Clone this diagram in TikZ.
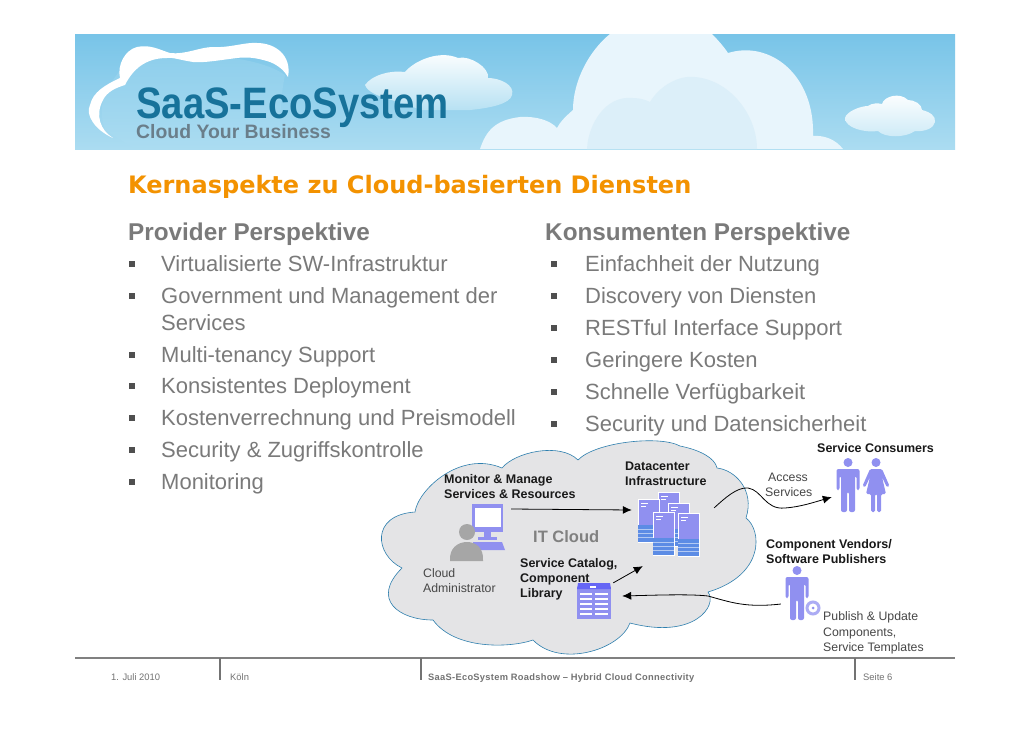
\documentclass[tikz,border=0pt]{standalone}
\usepackage{fontspec}
\setmainfont{Liberation Sans}
\newfontfamily\titlefont{DejaVu Sans}
\newfontfamily\footspaced[LetterSpace=3.2]{Liberation Sans}
\usetikzlibrary{arrows.meta,shapes.geometric}
\definecolor{bodygrey}{HTML}{7A7A7A}
\definecolor{iconblue}{HTML}{9090F0}
\definecolor{icondeep}{HTML}{3F78E0}
\definecolor{cloudfill}{HTML}{E4E4E6}
\definecolor{cloudline}{HTML}{2E7FAE}
\definecolor{skytop}{HTML}{78C4E8}
\definecolor{skybot}{HTML}{ABDCF1}
\definecolor{logoblue}{HTML}{17729A}
\definecolor{logogrey}{HTML}{6A7E8A}
\definecolor{bigcloud}{HTML}{E8F5FC}
\definecolor{innercloud}{HTML}{DCEFF9}
\definecolor{titleorange}{HTML}{F39200}
\tikzset{
  x=1pt,y=-1pt,
  head/.style={anchor=base west,inner sep=0pt,font=\fontsize{24.3}{26}\selectfont\bfseries,text=bodygrey},
  item/.style={anchor=base west,inner sep=0pt,font=\fontsize{22}{26}\selectfont,text=bodygrey},
  bullet/.style={draw=none,fill=bodygrey!65!black,minimum size=6.5pt,inner sep=0pt},
  dbold/.style={anchor=base west,inner sep=0pt,font=\fontsize{12.5}{14}\selectfont\bfseries,text=black!90},
  dreg/.style={anchor=base west,inner sep=0pt,font=\fontsize{12.3}{14}\selectfont,text=black!72},
  foot/.style={anchor=base west,inner sep=0pt,font=\fontsize{9.4}{11}\selectfont,text=black!55},
  flow/.style={black,line width=0.8pt,-{Latex[length=9pt,width=8pt]}},
  marker/.style={inner sep=0pt,minimum size=0pt},
  pics/manicon/.style={code={
    \fill[iconblue] (0,4.5) circle (4.5);
    \fill[iconblue,rounded corners=2pt] (-11.5,11) -- (11.5,11) -- (11.5,32) -- (8.5,32) -- (8.5,18) -- (7,18) -- (7,54) -- (1,54) -- (1,34) -- (-1,34) -- (-1,54) -- (-7,54) -- (-7,18) -- (-8.5,18) -- (-8.5,32) -- (-11.5,32) -- cycle;
  }},
  pics/womanicon/.style={code={
    \fill[iconblue] (0,4.5) circle (4.5);
    \fill[iconblue,rounded corners=1.5pt] (-6,11) -- (6,11) -- (13.5,28) -- (11,29.5) -- (6,19) -- (10,36) -- (5,36) -- (5,54) -- (1,54) -- (1,36) -- (-1,36) -- (-1,54) -- (-5,54) -- (-5,36) -- (-10,36) -- (-6,19) -- (-11,29.5) -- (-13.5,28) -- cycle;
  }},
  pics/servericon/.style={code={
    \fill[iconblue,draw=white,line width=0.6pt] (0,0) rectangle (21,43);
    \fill[icondeep!85!white] (0,26) rectangle (21,43);
    \foreach \yy in {30,34,38}{\draw[white!60!icondeep,line width=0.4pt] (0,\yy) -- (21,\yy);}
    \fill[white] (3,3.5) rectangle (10,5);
    \fill[white] (3,6.5) rectangle (8,7.5);
  }}
}
\begin{document}
\begin{tikzpicture}
\useasboundingbox (0,0) rectangle (1030,728);
\fill[white] (0,0) rectangle (1030,728);
% banner
\shade[top color=skytop,bottom color=skybot] (75,34) rectangle (955,149);
% big cloud
\fill[bigcloud] (480,149) .. controls (486,131) and (495,120) .. (520,117) .. controls (535,116) and (550,120) .. (557,128) .. controls (560,122) and (566,116) .. (573,110) .. controls (573,80) and (590,50) .. (610,34) -- (712,34) .. controls (718,40) and (724,47) .. (728,53) .. controls (770,40) and (815,75) .. (813,136) .. controls (825,135) and (836,140) .. (843,149) -- cycle;
\fill[innercloud] (587,149) .. controls (588,125) and (605,95) .. (633,98) .. controls (640,98) and (646,100) .. (650,102) .. controls (660,85) and (680,75) .. (695,77) .. controls (730,80) and (757,115) .. (757,149) -- cycle;
% second logo cloud
\shade[top color=white,middle color=white,bottom color=skybot!85!white] (365,85) .. controls (372,75) and (390,70) .. (405,72) .. controls (415,60) and (440,50) .. (458,58) .. controls (470,55) and (490,68) .. (488,78) .. controls (500,78) and (515,85) .. (512,95) .. controls (510,104) and (490,108) .. (470,110) -- (420,110) .. controls (400,100) and (370,98) .. (365,85) -- cycle;
% logo crescent
\shade[top color=skytop!60!skybot,bottom color=skybot] (120,70) .. controls (150,50) and (250,50) .. (285,75) .. controls (280,100) and (280,120) .. (280,149) -- (135,149) -- (105,130) .. controls (95,100) and (110,85) .. (120,70) -- cycle;
\fill[white] (113,138) .. controls (95,130) and (85,115) .. (90,105) .. controls (93,92) and (105,85) .. (120,78) .. controls (117,65) and (125,50) .. (137,47) .. controls (150,44) and (160,50) .. (170,53) .. controls (185,55) and (200,47) .. (213,47) .. controls (230,48) and (245,42) .. (257,43) .. controls (275,43) and (292,55) .. (288,77) .. controls (285,72) and (280,66) .. (270,62) .. controls (255,57) and (245,57) .. (237,58) .. controls (220,60) and (205,63) .. (193,62) .. controls (180,60) and (172,57) .. (167,58) .. controls (150,58) and (135,65) .. (125,85) .. controls (115,88) and (107,92) .. (103,100) .. controls (95,115) and (100,130) .. (113,138) -- cycle;
% small right cloud
\shade[top color=white,middle color=white,bottom color=skybot!60!white] (845,118) .. controls (846,112) and (860,106) .. (868,106) .. controls (872,103) and (878,103) .. (882,104) .. controls (884,96) and (900,92) .. (908,100) .. controls (914,100) and (922,104) .. (922,110) .. controls (930,112) and (936,116) .. (935,122) .. controls (934,128) and (925,132) .. (915,131) .. controls (905,138) and (885,138) .. (878,131) .. controls (865,133) and (845,128) .. (845,118) -- cycle;
% logo text
\node[anchor=base west,inner sep=0pt,text=logoblue,font=\fontsize{44}{48}\selectfont\bfseries] (logo) at (136,118) {\scalebox{0.87}[1]{SaaS-EcoSystem}};
\node[anchor=base west,inner sep=0pt,text=logogrey,font=\fontsize{19.4}{22}\selectfont\bfseries] (tag) at (136,138) {Cloud Your Business};
% title
\node[anchor=base west,inner sep=0pt,text=titleorange,font=\titlefont\fontsize{24}{26}\selectfont\bfseries] (title) at (128,193) {Kernaspekte zu Cloud-basierten Diensten};
% left column
\node[head] (lhead) at (128,240) {Provider Perspektive};
\node[item] (l1) at (161,271) {Virtualisierte SW-Infrastruktur};
\node[item] (l2) at (161,303) {Government und Management der};
\node[item] (l2b) at (161,330) {Services};
\node[item] (l3) at (161,362) {Multi-tenancy Support};
\node[item] (l4) at (161,393) {Konsistentes Deployment};
\node[item] (l5) at (161,425) {Kostenverrechnung und Preismodell};
\node[item] (l6) at (161,457) {Security \& Zugriffskontrolle};
\node[item] (l7) at (161,489) {Monitoring};
\foreach \n/\yy in {a/264,b/296,c/355,d/386,e/418,f/450,g/482}{\node[bullet] (lb\n) at (132,\yy) {};}
% right column
\node[head] (rhead) at (545,240) {Konsumenten Perspektive};
\node[item] (r1) at (585,271) {Einfachheit der Nutzung};
\node[item] (r2) at (585,303) {Discovery von Diensten};
\node[item] (r3) at (585,335) {RESTful Interface Support};
\node[item] (r4) at (585,367) {Geringere Kosten};
\node[item] (r5) at (585,399) {Schnelle Verfügbarkeit};
\node[item] (r6) at (585,431) {Security und Datensicherheit};
\foreach \n/\yy in {a/264,b/296,c/328,d/360,e/392,f/424}{\node[bullet] (rb\n) at (554,\yy) {};}
% cloud
\draw[cloudline,fill=cloudfill,line width=0.6pt] (415,512)
 .. controls (418,490) and (460,450) .. (502,468)
 .. controls (515,452) and (560,442) .. (578,460)
 .. controls (595,442) and (660,435) .. (680,446)
 .. controls (700,450) and (715,458) .. (717,468)
 .. controls (735,470) and (755,490) .. (746,518)
 .. controls (762,530) and (765,575) .. (708,592)
 .. controls (718,605) and (695,640) .. (630,623)
 .. controls (620,650) and (560,668) .. (533,640)
 .. controls (510,648) and (455,650) .. (433,620)
 .. controls (400,620) and (370,600) .. (402,568)
 .. controls (375,555) and (370,515) .. (415,512) -- cycle;
% admin
\fill[iconblue] (472,504) rectangle (503,532);
\fill[white] (475,508) rectangle (501,527);
\fill[iconblue] (484,532) rectangle (491,537);
\fill[iconblue] (478,537) rectangle (497,540);
\fill[iconblue] (473,542) -- (502,542) -- (505,550) -- (473,550) -- cycle;
\fill[black!35] (467,532) circle (8);
\fill[black!35] (450,561) .. controls (449,548) and (458,542) .. (467,542) .. controls (476,542) and (484,548) .. (483,561) -- cycle;
\node[marker] (monitor) at (511,509) {};
% servers
\pic at (658,492) {servericon};
\pic at (638,499) {servericon};
\pic at (668,503) {servericon};
\pic at (653,512) {servericon};
\pic at (678,513) {servericon};
\node[marker] (srvin) at (632,510) {};
\node[marker] (srvmid) at (643,566) {};
\node[marker] (srvout) at (714,508) {};
% catalog
\fill[iconblue] (577,587) rectangle (611,619);
\fill[iconblue!70!blue] (578,583) -- (610,583) -- (611,589) -- (577,589) -- cycle;
\fill[white] (590,586) rectangle (596,588);
\foreach \yy in {593,598,603,608,613}{\fill[white] (580,\yy) rectangle (592,\yy+2.4); \fill[white] (595,\yy) rectangle (608,\yy+2.4);}
\node[marker] (catout) at (613,583) {};
\node[marker] (catin) at (622,596) {};
% people
\pic at (848,458) {manicon};
\pic at (876,458) {womanicon};
\pic at (797,566) {manicon};
\draw[iconblue!75!white,line width=3pt,fill=white] (813,608) circle (6);
\fill[iconblue] (813,608) circle (1.5);
\node[marker] (consumers) at (832,497) {};
\node[marker] (vendor) at (781,604) {};
% connectors
\draw[flow] (monitor) -- (srvin);
\draw[flow] (catout) -- (srvmid);
\draw[flow] (srvout) .. controls (725,498) and (737,487) .. (748,488) .. controls (762,490) and (765,510) .. (785,508) .. controls (800,507) and (815,502) .. (consumers);
\draw[flow] (vendor) .. controls (745,608) and (730,602) .. (708,596) .. controls (690,594) and (660,595) .. (catin);
% diagram labels
\node[dbold] (t1) at (444,483) {Monitor \& Manage};
\node[dbold] (t2) at (444,498) {Services \& Resources};
\node[dbold] (t3) at (625,470) {Datacenter};
\node[dbold] (t4) at (625,485) {Infrastructure};
\node[anchor=base west,inner sep=0pt,font=\fontsize{16.5}{18}\selectfont\bfseries,text=black!50] (it) at (533,542) {IT Cloud};
\node[dbold] (t5) at (520,567) {Service Catalog,};
\node[dbold] (t6) at (520,582) {Component};
\node[dbold] (t7) at (520,597) {Library};
\node[dreg] (t8) at (423,577) {Cloud};
\node[dreg] (t9) at (423,592) {Administrator};
\node[dbold] (t10) at (817,452) {Service Consumers};
\node[dreg] (t11) at (768,481) {Access};
\node[dreg] (t12) at (765,496) {Services};
\node[dbold] (t13) at (766,548) {Component Vendors/};
\node[dbold] (t14) at (766,563) {Software Publishers};
\node[dreg] (t15) at (823,620) {Publish \& Update};
\node[dreg] (t16) at (823,636) {Components,};
\node[dreg] (t17) at (823,651) {Service Templates};
% footer
\draw[black!50,line width=2pt] (75,658) -- (955,658);
\foreach \n/\xx in {a/220,b/421,c/855}{\draw[black!55,line width=1.3pt] (\xx,658) -- (\xx,680);}
\node[foot] (f1) at (111,680) {1. Juli 2010};
\node[foot] (f2) at (230,680) {Köln};
\node[foot,font=\footspaced\fontsize{9.3}{11}\selectfont\bfseries] (f3) at (428,680) {SaaS-EcoSystem Roadshow – Hybrid Cloud Connectivity};
\node[foot] (f4) at (863,680) {Seite 6};
\end{tikzpicture}
\end{document}
